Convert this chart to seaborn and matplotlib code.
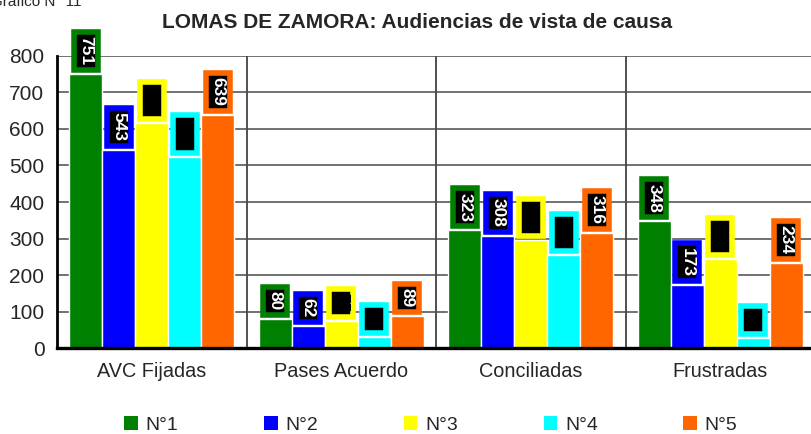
import matplotlib
matplotlib.use("Agg")
import matplotlib.pyplot as plt
import seaborn as sns
import pandas as pd
from matplotlib.patches import Patch

categories = ["AVC Fijadas", "Pases Acuerdo", "Conciliadas", "Frustradas"]
series = ["N°1", "N°2", "N°3", "N°4", "N°5"]
n1 = [751, 80, 323, 348]
n2 = [543, 62, 308, 173]
n3 = [615, 75, 295, 243]
n4 = [523, 32, 254, 28]
n5 = [639, 89, 316, 234]
colors = ["#008000", "#0000FF", "#FFFF00", "#00FFFF", "#FF6600"]
label_colors = ["white", "white", "black", "black", "white"]
title = "LOMAS DE ZAMORA: Audiencias de vista de causa"
yticks = [0, 100, 200, 300, 400, 500, 600, 700, 800]

values = [n1, n2, n3, n4, n5]
rows = []
for s, vals in zip(series, values):
    for c, v in zip(categories, vals):
        rows.append({"cat": c, "serie": s, "val": v})
df = pd.DataFrame(rows)

sns.set_style("white")
plt.rcParams["font.family"] = ["Liberation Sans", "DejaVu Sans"]

fig = plt.figure(figsize=(8.12, 4.34), dpi=100)
W, H = 812, 434
ax = fig.add_axes([57 / W, 1 - 348.3 / H, 758 / W, 292.6 / H])

sns.barplot(data=df, x="cat", y="val", hue="serie", palette=colors,
            width=0.87, edgecolor="white", linewidth=1.0, saturation=1,
            order=categories, hue_order=series, legend=False, ax=ax)

ax.set_xlim(-0.5, 3.5)
ax.set_ylim(0, 800)
ax.set_yticks(yticks)
ax.set_xlabel("")
ax.set_ylabel("")
ax.set_xticks([0, 1, 2, 3])
ax.set_xticklabels(categories, fontsize=14.3)
ax.set_xticks([0.5, 1.5, 2.5], minor=True)
ax.tick_params(axis="x", which="major", length=0, pad=10)
ax.tick_params(axis="x", which="minor", length=5, width=2.2, color="black", direction="out")
ax.tick_params(axis="y", which="major", length=6, width=2, color="black",
               direction="out", labelsize=15, pad=3)
ax.yaxis.grid(True, color="#4a4a4a", linewidth=1.1)
ax.xaxis.grid(True, which="minor", color="#222222", linewidth=1.1)
ax.xaxis.grid(False, which="major")
ax.set_axisbelow(True)
for side in ["top", "right"]:
    ax.spines[side].set_visible(False)
ax.spines["left"].set_linewidth(2.0)
ax.spines["left"].set_color("black")
ax.spines["bottom"].set_linewidth(2.4)
ax.spines["bottom"].set_color("black")

for i, cont in enumerate(ax.containers):
    for j, p in enumerate(cont.patches):
        v = values[i][j]
        ax.annotate(str(v), xy=(p.get_x() + p.get_width() / 2, p.get_height()),
                    xytext=(0, 6.0), textcoords="offset points",
                    rotation=270, ha="center", va="bottom",
                    fontsize=12.5, fontweight="bold", color=label_colors[i],
                    annotation_clip=False, clip_on=False,
                    bbox=dict(boxstyle="square,pad=0.25", facecolor="black",
                              edgecolor=colors[i], linewidth=4.0))

fig.text(417 / W, 1 - 22 / H, title, ha="center", va="center",
         fontsize=15, fontweight="bold")
fig.text(-9 / W, 1 - 6 / H, "Gráfico N° 11", ha="left", va="baseline", fontsize=11)

handles = [Patch(facecolor=c, edgecolor="none") for c in colors]
fig.legend(handles, series, loc="center", bbox_to_anchor=(431 / W, 1 - 425 / H),
           ncol=5, frameon=False, fontsize=14, handlelength=0.7, handleheight=0.7,
           handletextpad=0.4, columnspacing=4.4, borderaxespad=0, borderpad=0)

fig.savefig("out.png", dpi=100)
